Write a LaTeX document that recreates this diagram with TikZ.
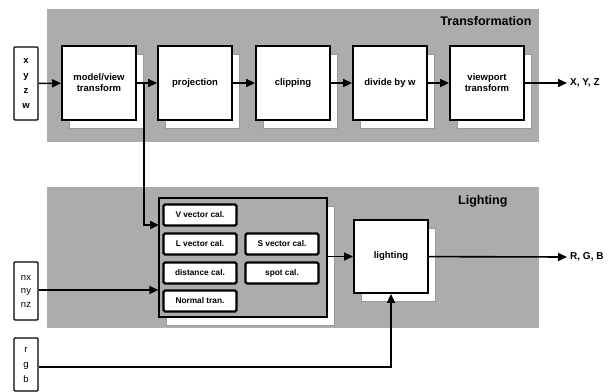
\documentclass[tikz,border=0pt]{standalone}
\usepackage{fontspec}
\setmainfont{Liberation Sans}
\usetikzlibrary{arrows.meta,shadows}
\begin{document}
\begin{tikzpicture}[x=1pt,y=-1pt,
  panel/.style={fill=gray!65,draw=none},
  shad/.style={drop shadow={shadow xshift=7pt,shadow yshift=-8pt,fill=white,draw=gray!80,line width=0.6pt,opacity=1}},
  blk/.style={draw,line width=1.8pt,fill=white,minimum width=74pt,minimum height=74pt,align=center,inner sep=1pt,font=\fontsize{9.5}{11}\selectfont\bfseries,shad},
  inbox/.style={draw,line width=1.4pt,fill=white,minimum width=24pt,align=center,inner sep=1pt,rounded corners=1pt},
  sub/.style={draw,line width=2.2pt,fill=white,minimum width=73pt,minimum height=21pt,rounded corners=1.5pt,font=\fontsize{8.3}{9}\selectfont\bfseries,inner sep=1pt},
  grp/.style={draw,line width=1.3pt,fill=gray!65,minimum width=168pt,minimum height=119pt,shad},
  arr/.style={line width=1.6pt,-{Triangle[length=9pt,width=8pt]}},
  lab/.style={font=\fontsize{12.5}{14}\selectfont\bfseries},
  outlab/.style={font=\fontsize{10}{11}\selectfont\bfseries,anchor=west,inner sep=1pt}]
\useasboundingbox (0,0) rectangle (613,391);
% panels
\fill[panel] (47,9) rectangle (539,142);
\fill[panel] (47,187) rectangle (539,328);
\node[lab,anchor=east] (tlab) at (535,21) {Transformation};
\node[lab,anchor=east] (llab) at (511,201) {Lighting};
% inputs
\node[inbox,minimum height=73pt,font=\fontsize{9.5}{15}\selectfont\bfseries] (xyzw) at (26,83.5) {x\\y\\z\\w};
\node[inbox,minimum height=58pt,font=\fontsize{9.5}{13.5}\selectfont] (nxyz) at (26,291) {nx\\ny\\nz};
\node[inbox,minimum height=53pt,font=\fontsize{9.5}{15}\selectfont] (rgb) at (26,364.5) {r\\g\\b};
% transformation blocks
\node[blk] (mv) at (99,83) {model/view\\transform};
\node[blk] (proj) at (195,83) {projection};
\node[blk] (clip) at (293,83) {clipping};
\node[blk] (div) at (390,83) {divide by w};
\node[blk] (vp) at (487,83) {viewport\\transform};
\coordinate (o1) at (567,83);
\node[outlab] (xyz) at (569,83) {X, Y, Z};
% lighting group
\node[grp] (grp) at (243,257.5) {};
\node[sub] (vv) at (200,215) {V vector cal.};
\node[sub] (lv) at (200,244) {L vector cal.};
\node[sub] (sv) at (282,244) {S vector cal.};
\node[sub] (dc) at (200,273) {distance cal.};
\node[sub] (sc) at (282,273) {spot cal.};
\node[sub] (nt) at (200,301) {Normal tran.};
\node[blk,minimum height=73pt] (lt) at (391,256.5) {lighting};
\coordinate (o2) at (567,257);
\node[outlab] (rgbo) at (569,257) {R, G, B};
% connectors
\draw[arr] (xyzw) -- (mv);
\draw[arr] (mv) -- (proj);
\draw[arr] (proj) -- (clip);
\draw[arr] (clip) -- (div);
\draw[arr] (div) -- (vp);
\draw[arr] (vp) -- (o1);
\coordinate (j1) at (144,83);
\coordinate (g1) at (159,225);
\draw[arr] (j1) |- (g1);
\draw[arr] (nxyz.east |- 0,290) -- (grp.west |- 0,290);
\draw[arr] (grp.east |- lt) -- (lt);
\draw[arr] (lt) -- (o2);
\draw[arr] (rgb.east |- 0,367) -| (lt.south);
\end{tikzpicture}
\end{document}
